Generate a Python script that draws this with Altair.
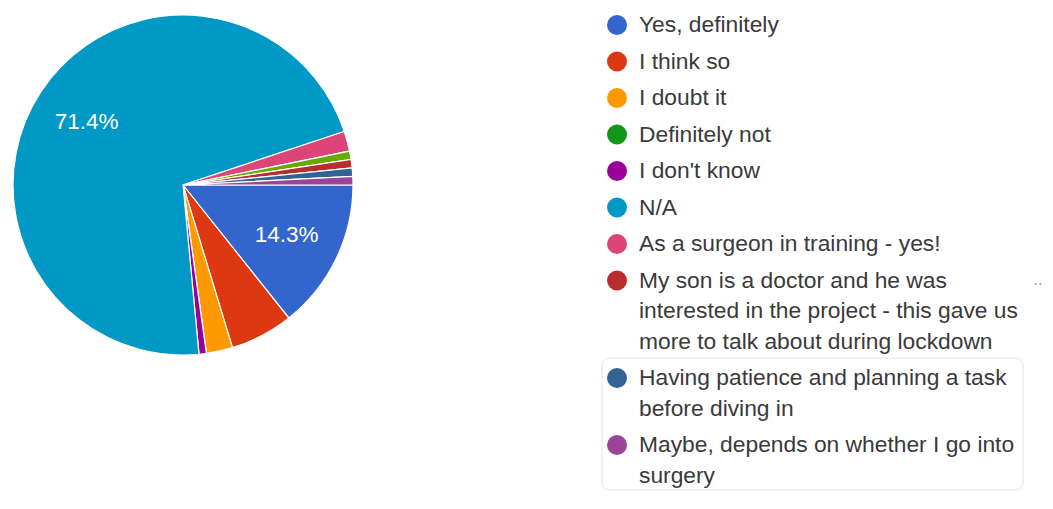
import math
import altair as alt
import pandas as pd

# ---- data ----
answers = [
    "Yes, definitely",
    "I think so",
    "I doubt it",
    "Definitely not",
    "I don't know",
    "N/A",
    "As a surgeon in training - yes!",
    "Other response",
    "My son is a doctor and he was interested in the project - this gave us more to talk about during lockdown",
    "Having patience and planning a task before diving in",
    "Maybe, depends on whether I go into surgery",
]
values = [14.3, 6.0, 2.5, 0.0, 0.7, 71.4, 1.9, 0.8, 0.8, 0.8, 0.8]
colors = ["#3366cc", "#dc3912", "#ff9900", "#109618", "#990099", "#0099c6",
          "#dd4477", "#66aa00", "#b82e2e", "#316395", "#994499"]

# legend entries (as wrapped in the reference)
legend_answers = [a for a in answers if a != "Other response"]
legend_lines = [
    ["Yes, definitely"],
    ["I think so"],
    ["I doubt it"],
    ["Definitely not"],
    ["I don't know"],
    ["N/A"],
    ["As a surgeon in training - yes!"],
    ["My son is a doctor and he was", "interested in the project - this gave us",
     "more to talk about during lockdown"],
    ["Having patience and planning a task", "before diving in"],
    ["Maybe, depends on whether I go into", "surgery"],
]

# ---- tables ----
pie_df = pd.DataFrame({
    "answer": answers,
    "value": values,
    "idx": list(range(len(answers))),
    "label": [f"{v:.1f}%" if v >= 10 else "" for v in values],
})

# legend layout constants
TOP, GAP, LINE = 25.0, 36.5, 30.5
sym_rows, txt_rows = [], []
extra = 0
for i, (ans, lines) in enumerate(zip(legend_answers, legend_lines)):
    base = TOP + i * GAP + extra * LINE
    sym_rows.append({"answer": ans, "ypos": base})
    for j, ln in enumerate(lines):
        txt_rows.append({"line": ln, "ypos": base + j * LINE})
    extra += len(lines) - 1
sym_df = pd.DataFrame(sym_rows)
txt_df = pd.DataFrame(txt_rows)

W, H = 1053, 509
CX, CY, R = 183, 185, 170

color_scale = alt.Scale(domain=answers, range=colors)
theta_scale = alt.Scale(range=[math.pi / 2, math.pi / 2 + 2 * math.pi])
yscale = alt.Scale(domain=[0, H], range=[0, H])
FONT = "Liberation Sans"

pie = alt.Chart(pie_df).mark_arc(radius=R, stroke="white", strokeWidth=1.2).encode(
    theta=alt.Theta("value:Q", stack=True, scale=theta_scale),
    color=alt.Color("answer:N", scale=color_scale, legend=None),
    order=alt.Order("idx:Q"),
    x=alt.value(CX),
    y=alt.value(CY),
)

pct = alt.Chart(pie_df).mark_text(radius=115, fontSize=22.5, color="white", font=FONT).encode(
    theta=alt.Theta("value:Q", stack=True, scale=theta_scale),
    text=alt.Text("label:N"),
    order=alt.Order("idx:Q"),
    x=alt.value(CX),
    y=alt.value(CY),
)

box = alt.Chart(pd.DataFrame({"k": [0]})).mark_rect(
    fillOpacity=0, stroke="#e4e4e4", strokeWidth=1, cornerRadius=8
).encode(x=alt.value(602), x2=alt.value(1023), y=alt.value(358), y2=alt.value(490))

syms = alt.Chart(sym_df).mark_circle(size=400, opacity=1).encode(
    x=alt.value(617),
    y=alt.Y("ypos:Q", scale=yscale, axis=None),
    color=alt.Color("answer:N", scale=color_scale, legend=None),
)

texts = alt.Chart(txt_df).mark_text(
    align="left", baseline="middle", fontSize=22.8, color="#3a3a3a", font=FONT
).encode(
    x=alt.value(639),
    y=alt.Y("ypos:Q", scale=yscale, axis=None),
    text=alt.Text("line:N"),
)

dots = alt.Chart(pd.DataFrame({"t": [".."]})).mark_text(
    fontSize=16, color="#9a9a9a", font=FONT
).encode(x=alt.value(1038), y=alt.value(280), text="t:N")

chart = alt.layer(box, pie, pct, syms, texts, dots).properties(
    width=W, height=H, padding=0, autosize=alt.AutoSizeParams(type="none")
).configure_view(stroke=None)

chart.save("out.html", embed_options={"renderer": "svg", "actions": False})
